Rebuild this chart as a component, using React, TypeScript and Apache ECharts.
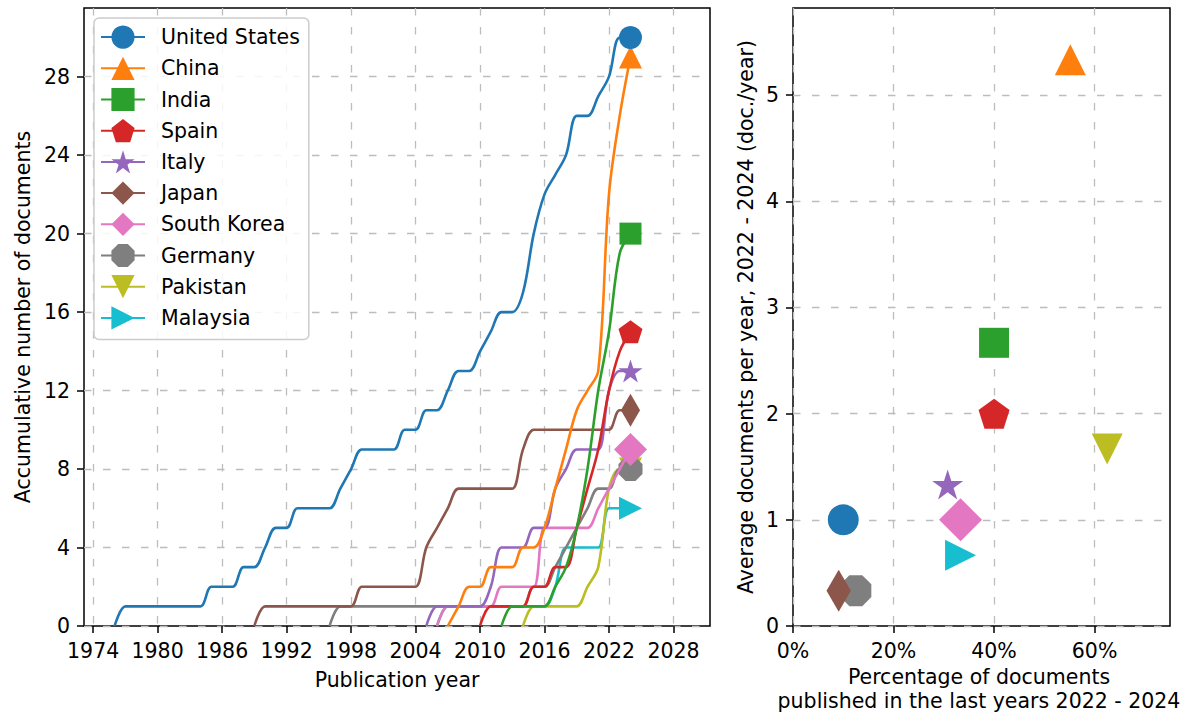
import React, { useEffect, useRef } from 'react';
import * as echarts from 'echarts';

// ---------- data ----------
const countries = ['United States', 'China', 'India', 'Spain', 'Italy', 'Japan', 'South Korea', 'Germany', 'Pakistan', 'Malaysia'];
const colors = ['#1f77b4', '#ff7f0e', '#2ca02c', '#d62728', '#9467bd', '#8c564b', '#e377c2', '#7f7f7f', '#bcbd22', '#17becf'];

// accumulative documents per year, starting at the given first year
const usFirstYear = 1976;
const usCum = [0, 1, 1, 1, 1, 1, 1, 1, 1, 2, 2, 2, 3, 3, 4, 5, 5, 6, 6, 6, 6, 7, 8, 9, 9, 9, 9, 10, 10, 11, 11, 12, 13, 13, 14, 15, 16, 16, 17, 20, 22, 23, 24, 26, 26, 27, 28, 30, 30];
const chinaFirstYear = 2007;
const chinaCum = [0, 1, 2, 2, 3, 3, 3, 4, 4, 5, 7, 9, 11, 12, 13, 22, 26, 29];
const indiaFirstYear = 2012;
const indiaCum = [0, 1, 1, 1, 1, 2, 3, 5, 8, 12, 15, 19, 20];
const spainFirstYear = 2010;
const spainCum = [0, 1, 1, 1, 1, 2, 2, 3, 3, 5, 7, 9, 12, 14, 15];
const italyFirstYear = 2005;
const italyCum = [0, 1, 1, 1, 1, 1, 2, 4, 4, 4, 5, 5, 7, 8, 9, 9, 9, 12, 13, 13];
const japanFirstYear = 1989;
const japanCum = [0, 1, 1, 1, 1, 1, 1, 1, 1, 1, 2, 2, 2, 2, 2, 2, 4, 5, 6, 7, 7, 7, 7, 7, 7, 9, 10, 10, 10, 10, 10, 10, 10, 10, 11, 11];
const koreaFirstYear = 2006;
const koreaCum = [0, 1, 1, 1, 1, 1, 2, 2, 2, 2, 5, 5, 5, 5, 5, 6, 7, 8, 9];
const germanyFirstYear = 1996;
const germanyCum = [0, 1, 1, 1, 1, 1, 1, 1, 1, 1, 1, 1, 1, 1, 1, 1, 1, 1, 1, 2, 2, 3, 4, 5, 6, 7, 7, 8, 8];
const pakistanFirstYear = 2014;
const pakistanCum = [0, 1, 1, 1, 1, 1, 2, 3, 7, 8, 8];
const malaysiaFirstYear = 2006;
const malaysiaCum = [0, 1, 1, 1, 1, 1, 1, 1, 1, 1, 1, 2, 4, 4, 4, 4, 6, 6, 6];

const firstYears = [usFirstYear, chinaFirstYear, indiaFirstYear, spainFirstYear, italyFirstYear, japanFirstYear, koreaFirstYear, germanyFirstYear, pakistanFirstYear, malaysiaFirstYear];
const cumSeries = [usCum, chinaCum, indiaCum, spainCum, italyCum, japanCum, koreaCum, germanyCum, pakistanCum, malaysiaCum];

// right panel: share of documents 2022-2024 (%) and average documents per year 2022-2024
const recentShare = [10.0, 55.17, 40.0, 40.0, 30.77, 9.09, 33.33, 12.5, 62.5, 33.33];
const recentRate = [1.0, 5.333, 2.667, 2.0, 1.333, 0.333, 1.0, 0.333, 1.667, 0.667];

// tick labels
const yearTicks = [1974, 1980, 1986, 1992, 1998, 2004, 2010, 2016, 2022, 2028];
const cumTicks = [0, 4, 8, 12, 16, 20, 24, 28];
const shareTicks = [0, 20, 40, 60];
const rateTicks = [0, 1, 2, 3, 4, 5];

// ---------- styling ----------
const FONT = 'DejaVu Sans';
const FS = 20.5;
const GRID_LINE = { color: '#bdbdbd', width: 1.3, type: [7.5, 11.5] as any };

const pentagon = 'path://M0,-1 L0.951,-0.309 L0.588,0.809 L-0.588,0.809 L-0.951,-0.309 Z';
const star = 'path://M0,-1 L0.2245,-0.309 L0.951,-0.309 L0.363,0.118 L0.588,0.809 L0,0.382 L-0.588,0.809 L-0.363,0.118 L-0.951,-0.309 L-0.2245,-0.309 Z';
const octagon = 'path://M0.924,0.383 L0.383,0.924 L-0.383,0.924 L-0.924,0.383 L-0.924,-0.383 L-0.383,-0.924 L0.383,-0.924 L0.924,-0.383 Z';
const triDown = 'path://M-1,-1 L1,-1 L0,1 Z';
const triRight = 'path://M-1,-1 L1,0 L-1,1 Z';
const thinDiamond = 'path://M0,-1 L0.58,0 L0,1 L-0.58,0 Z';

const symbols = ['circle', 'triangle', 'rect', pentagon, star, thinDiamond, 'diamond', octagon, triDown, triRight];
const keepAspect = [false, false, false, false, false, true, false, false, false, false];
const leftSizes: any[] = [23, 23, 22, [24, 23], [24, 23], 33, [33, 33], [24, 24], [23, 23], [23, 23]];
const rightSizes: any[] = [31, 31, 30, [31, 30], [31, 30], 42, [43, 43], [31, 31], [31, 31], [31, 31]];

function axisCommon(ticks: number[], fmt: (v: number) => string) {
  return {
    axisLine: { show: false },
    axisTick: { show: true, length: 7, lineStyle: { color: '#000', width: 1.5 }, customValues: ticks },
    axisLabel: { customValues: ticks, margin: 14, color: '#000', fontSize: FS, fontFamily: FONT, formatter: fmt },
    splitLine: { show: true, lineStyle: GRID_LINE },
  };
}

export default function App() {
  const ref = useRef<HTMLDivElement>(null);

  useEffect(() => {
    document.body.style.margin = '0';
    if (!ref.current) return;
    const chart = echarts.init(ref.current, null as any, { renderer: 'svg' });

    const lineSeries = countries.map((name, i) => {
      const vals = cumSeries[i];
      const start = firstYears[i];
      return {
        type: 'line',
        name,
        xAxisIndex: 0,
        yAxisIndex: 0,
        smooth: 0.35,
        symbol: symbols[i],
        symbolSize: leftSizes[i],
        symbolKeepAspect: keepAspect[i],
        showSymbol: true,
        z: 30 - i,
        lineStyle: { color: colors[i], width: 2.6 },
        itemStyle: { color: colors[i], opacity: 1 },
        emphasis: { disabled: true },
        silent: true,
        data: vals.map((v, k) =>
          k === vals.length - 1 ? { value: [start + k, v] } : { value: [start + k, v], symbol: 'none' }
        ),
      };
    });

    const scatterSeries = countries.map((name, i) => ({
      type: 'scatter',
      name: name + ' (2022-2024)',
      xAxisIndex: 1,
      yAxisIndex: 1,
      symbol: symbols[i],
      symbolSize: rightSizes[i],
      symbolKeepAspect: keepAspect[i],
      z: 30 - i,
      itemStyle: { color: colors[i], opacity: 1 },
      emphasis: { disabled: true },
      silent: true,
      data: [[recentShare[i], recentRate[i]]],
    }));

    const textStyle = { fill: '#000', fontSize: FS, fontFamily: FONT, textAlign: 'center', textVerticalAlign: 'middle' };

    chart.setOption({
      animation: false,
      backgroundColor: '#ffffff',
      grid: [
        { left: 84, top: 8, width: 626, height: 618, show: true, borderColor: '#000', borderWidth: 1.5, backgroundColor: 'transparent' },
        { left: 793, top: 8, width: 377, height: 618, show: true, borderColor: '#000', borderWidth: 1.5, backgroundColor: 'transparent' },
      ],
      xAxis: [
        { type: 'value', gridIndex: 0, min: 1973.15, max: 2031.4, ...axisCommon(yearTicks, (v: number) => String(v)) },
        { type: 'value', gridIndex: 1, min: 0, max: 75, ...axisCommon(shareTicks, (v: number) => v + '%') },
      ],
      yAxis: [
        { type: 'value', gridIndex: 0, min: 0, max: 31.5, ...axisCommon(cumTicks, (v: number) => String(v)) },
        { type: 'value', gridIndex: 1, min: 0, max: 5.82, ...axisCommon(rateTicks, (v: number) => String(v)) },
      ],
      legend: {
        data: countries,
        orient: 'vertical',
        left: 94,
        top: 18,
        itemWidth: 44,
        itemHeight: 29,
        itemGap: 8,
        padding: [7.5, 9, 10, 6],
        backgroundColor: 'rgba(255,255,255,0.85)',
        borderColor: '#cccccc',
        borderWidth: 1.5,
        borderRadius: 5,
        selectedMode: false,
        textStyle: { color: '#000', fontSize: FS, fontFamily: FONT, padding: [0, 0, 0, 11] },
      },
      series: [...lineSeries, ...scatterSeries],
      graphic: [
        { type: 'text', x: 397, y: 680, style: { ...textStyle, text: 'Publication year' } },
        { type: 'text', x: 23, y: 317, rotation: Math.PI / 2, style: { ...textStyle, text: 'Accumulative number of documents' } },
        { type: 'text', x: 746, y: 317, rotation: Math.PI / 2, style: { ...textStyle, text: 'Average documents per year, 2022 - 2024 (doc./year)' } },
        { type: 'text', x: 979, y: 677, style: { ...textStyle, text: 'Percentage of documents' } },
        { type: 'text', x: 979, y: 701, style: { ...textStyle, text: 'published in the last years 2022 - 2024' } },
      ],
    } as any);

    return () => chart.dispose();
  }, []);

  return <div ref={ref} style={{ width: 1182, height: 716 }} />;
}
